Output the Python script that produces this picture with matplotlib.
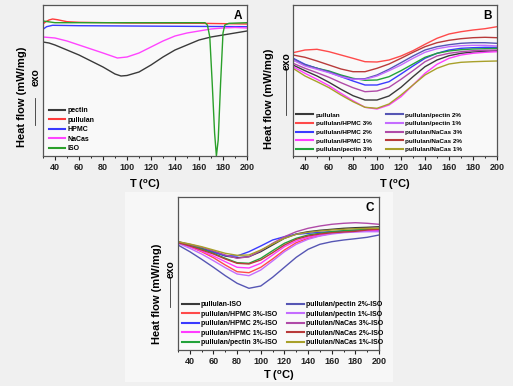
import matplotlib
matplotlib.use("Agg")
import matplotlib.pyplot as plt
from matplotlib.ticker import MultipleLocator

plt.rcParams["font.family"] = ["Liberation Sans", "DejaVu Sans"]
plt.rcParams["font.weight"] = "bold"
plt.rcParams["mathtext.fontset"] = "custom"
plt.rcParams["mathtext.rm"] = "Liberation Sans:bold"
plt.rcParams["mathtext.default"] = "rm"

W, H = 513, 386

# ---- panel A: single components ----
t_pectin = [30, 35, 40, 50, 60, 70, 80, 90, 95, 100, 110, 120, 130, 140, 150, 160, 170, 180, 190, 200]
pectin = [114, 113, 111, 106, 101, 95, 89, 82, 80, 80.5, 84, 91, 99, 106, 111, 116, 119, 121, 123, 125]

t_nacas = [30, 40, 50, 60, 70, 80, 92, 100, 110, 120, 130, 140, 150, 160, 170, 180, 190, 200]
nacas = [119, 118, 115, 111, 107, 103, 98, 99, 103, 109, 115, 120, 123, 125, 127, 128, 128.5, 128]

t_pullulan = [30, 32, 35, 38, 42, 50, 60, 100, 160, 200]
pullulan = [132, 134, 136, 137, 136.3, 134.3, 133.7, 133, 132.7, 132]

t_hpmc = [30, 33, 38, 60, 200]
hpmc = [126.7, 129.3, 130.7, 130.3, 129.3]

t_iso = [30, 40, 100, 165, 167, 169, 171, 173, 174.5, 176, 178, 180, 181.5, 185, 200]
iso = [135, 133.3, 133.3, 133.3, 131, 119, 73, 23, 0, 16, 73, 123, 131, 132.7, 133.3]

# ---- panel B: pullulan blends ----
t_blend = [30, 40, 50, 60, 70, 80, 90, 100, 110, 120, 130, 140, 150, 160, 170, 180, 190, 200]
b_pullulan = [91, 85.3, 80, 73.7, 66.7, 60.3, 56, 56, 60, 68.7, 79.3, 89.3, 96, 100.3, 102.7, 104, 104.7, 105.3]
b_hpmc3 = [103.3, 106, 106.7, 104.3, 101, 97.7, 94.3, 94, 96, 100, 105.3, 111.7, 117.7, 122, 124.3, 126, 127.3, 129.3]
b_hpmc2 = [97.7, 91.7, 87.7, 83.7, 79.3, 75, 71, 71, 74.3, 82, 90, 97.7, 102.7, 106, 107.7, 108.3, 108.7, 108.7]
b_hpmc1 = [89.3, 82.7, 76.7, 70.3, 62.7, 55.3, 48.7, 47, 51, 59.3, 71, 82.7, 91.7, 97.7, 101, 102.7, 103.7, 104.3]
b_pectin3 = [96, 91, 87.7, 85, 81, 77.7, 75.7, 76, 79.3, 85.3, 92, 98.7, 102.7, 105, 106.3, 107, 107.3, 107.7]
b_pectin2 = [97.7, 91, 87.7, 84.3, 80, 77, 77.3, 81, 86.7, 93.3, 100, 106, 109.3, 111.3, 112.7, 113.3, 113.3, 112.7]
b_pectin1 = [96, 90, 86.7, 83.3, 79.3, 76.7, 76.7, 80, 85.3, 91, 97.7, 103.7, 107.3, 109.3, 110.3, 110.7, 110.7, 110]
b_nacas3 = [92.7, 87.7, 83.3, 78.7, 73.3, 68.3, 64.3, 65, 68.7, 76.7, 85.3, 94.3, 100, 102.7, 104.3, 105.3, 105.7, 106]
b_nacas2 = [101, 98.7, 95, 91, 87, 84.3, 84.3, 87.7, 92, 97.7, 103.7, 109.3, 113.3, 115.7, 117.3, 118.3, 118.7, 118.3]
b_nacas1 = [87.7, 80, 74.3, 68.3, 61, 54.3, 48.7, 47.7, 52, 61, 71, 81, 87.7, 92, 93.7, 94.3, 94.7, 95]

# ---- panel C: blends with ISO ----
c_pullulan = [108, 105, 101.7, 98.3, 94, 92.3, 93.3, 98.3, 105, 111.7, 116, 118.3, 119.7, 120.7, 121.7, 122.3, 122.7, 123.3]
c_hpmc3 = [107.3, 103.3, 98.3, 92.3, 85, 78.3, 77.3, 82.7, 91, 100, 107.3, 111.7, 114.3, 116.7, 118, 118.7, 119.3, 120]
c_hpmc2 = [106.7, 104, 101, 97.7, 94.3, 94, 98.3, 104, 110, 113.3, 115.7, 116.7, 117.7, 118.3, 119, 119.7, 120, 120]
c_hpmc1 = [107.3, 103.3, 99, 94, 88.3, 82.7, 82, 86.7, 95, 103.3, 109, 112.7, 115, 116.7, 117.7, 118.3, 119.3, 120]
c_pectin3 = [108.3, 105, 101, 96.7, 91.7, 87.3, 86.7, 91.7, 99.3, 106.7, 111.7, 115, 116.7, 118.3, 119.3, 120, 120.7, 121.7]
c_pectin2 = [105, 98.3, 90.7, 82.7, 74.3, 66.7, 61.7, 64, 72.7, 82.7, 92.7, 100.7, 105.7, 108.3, 110, 111.3, 112.7, 115]
c_pectin1 = [106.7, 101.7, 96, 89.3, 82.3, 76, 74.3, 80, 89, 98.3, 105.7, 110.7, 114, 116, 117.3, 118, 118.3, 118.3]
c_nacas3 = [108.3, 105.7, 102.7, 99, 95, 91.7, 93.3, 99.3, 106.7, 113.3, 118.3, 121.7, 124, 125.7, 126.7, 127.3, 126.7, 125.7]
c_nacas2 = [107.3, 104, 100, 96, 91, 86.7, 86, 90, 97.3, 105, 110.7, 114, 116, 117.3, 118, 118.7, 120, 120.7]
c_nacas1 = [108.3, 106, 103.3, 100, 96.7, 94.7, 95, 100, 106, 111.7, 115.7, 117.7, 119, 120, 120.7, 121.3, 121.7, 121.7]

blend_labels = ["pullulan", "pullulan/HPMC 3%", "pullulan/HPMC 2%", "pullulan/HPMC 1%",
                "pullulan/pectin 3%", "pullulan/pectin 2%", "pullulan/pectin 1%",
                "pullulan/NaCas 3%", "pullulan/NaCas 2%", "pullulan/NaCas 1%"]
blend_colors = ["#3a3a3a", "#ff4a4a", "#3a3aff", "#ff3cff", "#22a33a",
                "#5656b4", "#c46cff", "#b04aa8", "#b83a3a", "#a8a02a"]


def px_rect(left, top, right, bottom):
    return [left / W, 1 - bottom / H, (right - left) / W, (bottom - top) / H]


def style_axes(ax, letter, ylim):
    ax.set_xlim(30, 200)
    ax.set_ylim(*ylim)
    ax.set_facecolor("#f9f9f9")
    ax.xaxis.set_major_locator(MultipleLocator(20))
    ax.xaxis.set_minor_locator(MultipleLocator(10))
    ax.set_xticks(range(40, 201, 20))
    ax.set_yticks([])
    ax.tick_params(axis="x", which="major", direction="out", length=3, width=0.8,
                   labelsize=6.5, pad=2, colors="#222222")
    ax.tick_params(axis="x", which="minor", direction="out", length=1.5, width=0.6)
    for s in ax.spines.values():
        s.set_color("#555555")
        s.set_linewidth(0.9)
    ax.set_xlabel(r"T ($^{o}$C)", fontsize=8, fontweight="bold")
    ax.set_ylabel("Heat flow (mW/mg)", fontsize=8, fontweight="bold")
    ax.text(0.975, 0.93, letter, transform=ax.transAxes, ha="right", va="center",
            fontsize=8.5, fontweight="bold")


def thick_handles(leg):
    for line in leg.get_lines():
        line.set_linewidth(1.5)


def exo_mark(x, y_tail, y_head, y_text):
    fig.add_artist(plt.Line2D([x / W, x / W], [1 - y_tail / H, 1 - y_head / H],
                              color="#333333", lw=0.6))
    fig.text(x / W + 0.002, 1 - y_text / H, "exo", rotation=90, ha="center", va="center",
             fontsize=7.5, fontweight="bold")


fig = plt.figure(figsize=(W / 100, H / 100), dpi=100, facecolor="#f0f0f0")
fig.patches.append(plt.Rectangle((125 / W, 1 - 382 / H), 268 / W, 190 / H,
                                 transform=fig.transFigure, facecolor="#f7f7f7",
                                 edgecolor="none", zorder=-1))

# panel A
axA = fig.add_axes(px_rect(43, 5, 247, 156))
axA.plot(t_pectin, pectin, color="#3a3a3a", lw=1.0, label="pectin")
axA.plot(t_pullulan, pullulan, color="#ff3a3a", lw=1.0, label="pullulan")
axA.plot(t_hpmc, hpmc, color="#3a3aff", lw=1.0, label="HPMC")
axA.plot(t_nacas, nacas, color="#ff44ff", lw=1.0, label="NaCas")
axA.plot(t_iso, iso, color="#2aa02a", lw=1.0, label="ISO")
style_axes(axA, "A", (0, 151))
axA.yaxis.set_label_coords(-0.078, 0.39)
axA.xaxis.set_label_coords(0.5, -0.14)
legA = axA.legend(loc="lower left", bbox_to_anchor=(0.0, -0.01), frameon=False, fontsize=5,
                  handlelength=2.4, handletextpad=0.3, labelspacing=0.35, borderpad=0.3)
thick_handles(legA)
exo_mark(35, 125, 98, 77)

# panel B
axB = fig.add_axes(px_rect(293, 5, 497, 156))
for y, lab, col in zip([b_pullulan, b_hpmc3, b_hpmc2, b_hpmc1, b_pectin3,
                        b_pectin2, b_pectin1, b_nacas3, b_nacas2, b_nacas1],
                       blend_labels, blend_colors):
    axB.plot(t_blend, y, color=col, lw=1.0, label=lab)
style_axes(axB, "B", (0, 151))
axB.yaxis.set_label_coords(-0.093, 0.38)
axB.xaxis.set_label_coords(0.5, -0.14)
legB = axB.legend(loc="lower left", bbox_to_anchor=(-0.01, -0.01), ncol=2, frameon=False,
                  fontsize=4.6, handlelength=2.7, handletextpad=0.35, labelspacing=0.5,
                  columnspacing=2.2, borderpad=0.3)
thick_handles(legB)
exo_mark(286, 115, 68, 61)

# panel C
axC = fig.add_axes(px_rect(178, 197, 379, 350))
for y, lab, col in zip([c_pullulan, c_hpmc3, c_hpmc2, c_hpmc1, c_pectin3,
                        c_pectin2, c_pectin1, c_nacas3, c_nacas2, c_nacas1],
                       blend_labels, blend_colors):
    axC.plot(t_blend, y, color=col, lw=1.0, label=lab + "-ISO")
style_axes(axC, "C", (0, 153))
axC.yaxis.set_label_coords(-0.08, 0.37)
axC.xaxis.set_label_coords(0.5, -0.124)
legC = axC.legend(loc="lower left", bbox_to_anchor=(-0.01, -0.01), ncol=2, frameon=False,
                  fontsize=5, handlelength=2.45, handletextpad=0.3, labelspacing=0.35,
                  columnspacing=1.5, borderpad=0.3)
thick_handles(legC)
exo_mark(170, 307, 278, 269)

fig.savefig("out.png", dpi=100, facecolor=fig.get_facecolor())
